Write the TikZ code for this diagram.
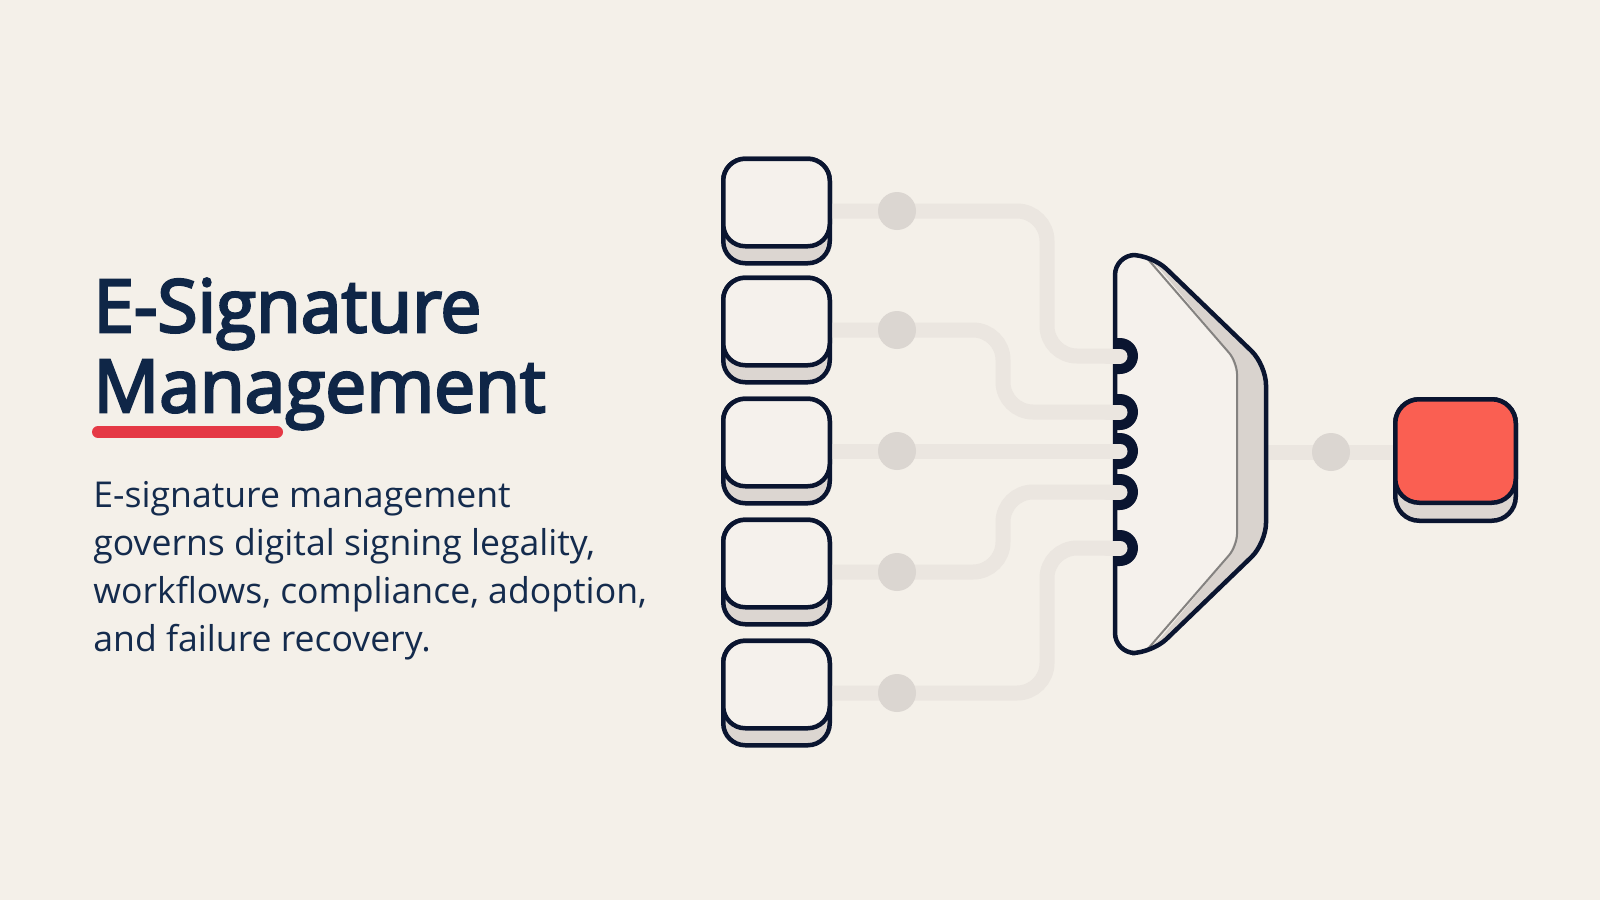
\documentclass[tikz,border=0pt]{standalone}
\usepackage{fontspec}
\setmainfont{Open Sans}
\newfontfamily\titlefont{Open Sans}[FakeBold=3.5]
\usetikzlibrary{calc}
\definecolor{bg}{HTML}{F4F0E9}
\definecolor{navy}{HTML}{0F2647}
\definecolor{bodytxt}{HTML}{142B4D}
\definecolor{outline}{HTML}{0A1530}
\definecolor{accent}{HTML}{E53945}
\definecolor{redbox}{HTML}{FA5F52}
\definecolor{wireclr}{HTML}{EBE6E0}
\definecolor{dotclr}{HTML}{DBD6D1}
\definecolor{faceclr}{HTML}{F5F1EC}
\definecolor{basegray}{HTML}{DCD6D1}
\definecolor{sidegray}{HTML}{D9D3CE}
\definecolor{edgegray}{HTML}{848280}
\tikzset{
  boxbase/.style={draw=outline, fill=basegray, line width=2.25pt, rounded corners=11pt,
    minimum width=53.25pt, minimum height=52.25pt, inner sep=0pt},
  boxface/.style={draw=outline, fill=faceclr, line width=2.25pt, rounded corners=11pt,
    minimum width=53.25pt, minimum height=43.75pt, inner sep=0pt, anchor=north},
  outbase/.style={draw=outline, fill=basegray, line width=2.25pt, rounded corners=12pt,
    minimum width=60.25pt, minimum height=60.75pt, inner sep=0pt},
  outface/.style={draw=outline, fill=redbox, line width=2.25pt, rounded corners=12pt,
    minimum width=60.25pt, minimum height=51.75pt, inner sep=0pt, anchor=north},
  wire/.style={draw=wireclr, line width=7.5pt, rounded corners=15pt},
  dotnode/.style={circle, fill=dotclr, minimum size=19pt, inner sep=0pt},
  titletext/.style={font=\titlefont\fontsize{36.5pt}{40pt}\selectfont, text=navy, anchor=base west, inner sep=0pt},
  bodytext/.style={font=\fontsize{17.8pt}{24pt}\selectfont, text=bodytxt, anchor=base west, inner sep=0pt},
}
\begin{document}
\begin{tikzpicture}[x=0.5pt,y=-0.5pt]
\useasboundingbox[fill=bg] (0,0) rectangle (1600,900);

% ---- text ----
\node[titletext] (t1) at (93,332) {E-Signature};
\node[titletext] (t2) at (93,412) {Management};
\draw[accent, line width=6pt, line cap=round] (98,432) -- (277,432);
\node[bodytext] (b1) at (93,507) {E-signature management};
\node[bodytext] (b2) at (93,555) {governs digital signing legality,};
\node[bodytext] (b3) at (93,603) {workflows, compliance, adoption,};
\node[bodytext] (b4) at (93,651) {and failure recovery.};

% ---- ports / coordinates ----
\coordinate (p1) at (1120,356);
\coordinate (p2) at (1120,412);
\coordinate (p3) at (1120,451);
\coordinate (p4) at (1120,492);
\coordinate (p5) at (1120,548);
\coordinate (mR) at (1266,452);

% ---- input box bases (positions) ----
\node[boxbase] (in1) at (776.5,211) {};
\node[boxbase] (in2) at (776.5,330) {};
\node[boxbase] (in3) at (776.5,451) {};
\node[boxbase] (in4) at (776.5,572) {};
\node[boxbase] (in5) at (776.5,693) {};
\node[outbase] (out) at (1455.5,460) {};

% ---- wires ----
\draw[wire] (in1.east) -| (1047,356) -- (p1);
\draw[wire] (in2.east) -| (1003,412) -- (p2);
\draw[wire] (in3.east) -- (p3);
\draw[wire] (in4.east) -| (1003,492) -- (p4);
\draw[wire] (in5.east) -| (1047,548) -- (p5);
\draw[wire] (mR) -- (out.west |- mR);

% ---- dots ----
\node[dotnode] (d1) at (897,211) {};
\node[dotnode] (d2) at (897,330) {};
\node[dotnode] (d3) at (897,451) {};
\node[dotnode] (d4) at (897,572) {};
\node[dotnode] (d5) at (897,693) {};
\node[dotnode] (d6) at (1331,452) {};

% ---- merge shape ----
\fill[sidegray, rounded corners=10pt] (1115,255) -- (1152,255) -- (1266,365) -- (1266,543) -- (1152,653) -- (1115,653) -- cycle;
\fill[faceclr, rounded corners=10pt] (1115,255) -- (1148,255) -- (1237,362) -- (1237,546) -- (1148,653) -- (1115,653) -- cycle;
\draw[edgegray, line width=1pt, rounded corners=6pt] (1146,257) -- (1237,362) -- (1237,546) -- (1146,651);
\draw[outline, line width=2.25pt, rounded corners=10pt] (1115,255) -- (1152,255) -- (1266,365) -- (1266,543) -- (1152,653) -- (1115,653) -- cycle;
\foreach \p in {p1,p2,p3,p4,p5}{
  \fill[outline] ($(\p)+(0,-18)$) arc[start angle=-90, end angle=90, radius=18] -- ($(\p)+(-6,18)$) -- ($(\p)+(-6,-18)$) -- cycle;
}
\foreach \p in {p1,p2,p3,p4,p5}{
  \draw[wireclr, line width=7.5pt, line cap=round] ($(\p)+(-12,0)$) -- (\p);
}

% ---- box faces ----
\foreach \i in {1,...,5}{
  \node[boxface] (f\i) at (in\i.north) {};
}
\node[outface] (outf) at (out.north) {};
\end{tikzpicture}
\end{document}
